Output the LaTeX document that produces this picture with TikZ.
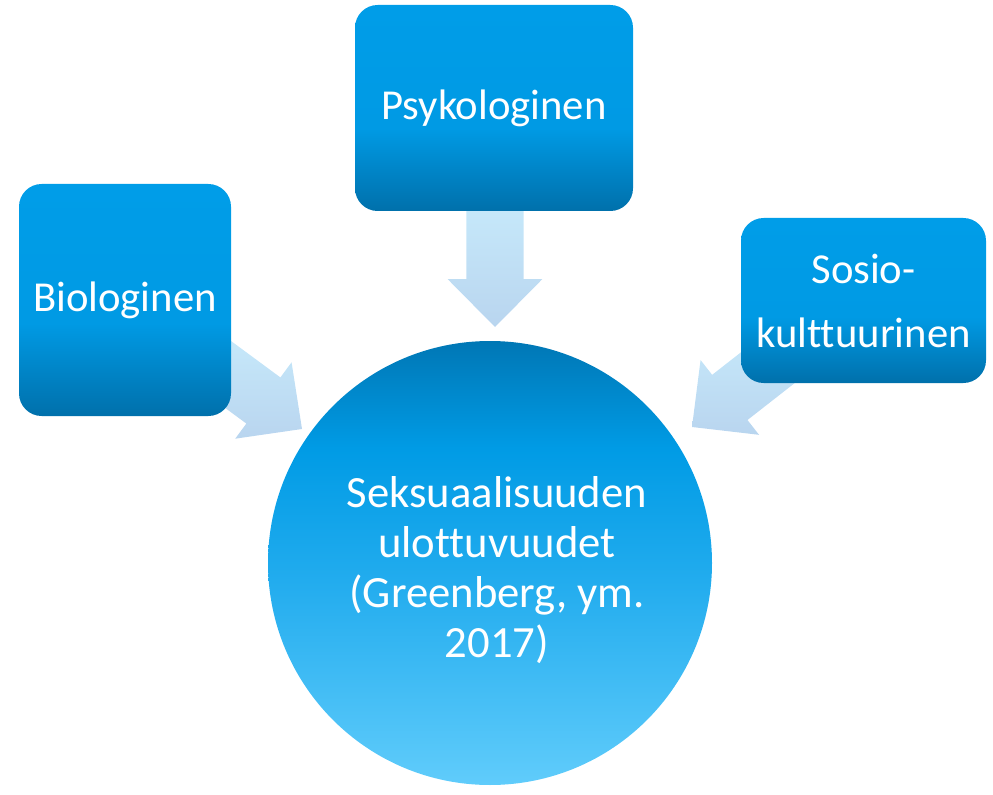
\documentclass[tikz,border=0pt]{standalone}
\usepackage{fontspec}
\setmainfont[Ligatures=NoCommon]{Carlito}
\usetikzlibrary{calc}
\definecolor{boxtop}{HTML}{009DE8}
\definecolor{boxmid}{HTML}{009AE4}
\definecolor{boxbot}{HTML}{0070AB}
\definecolor{circtop}{HTML}{0077B5}
\definecolor{circmid}{HTML}{009BE5}
\definecolor{circlow}{HTML}{22ACEE}
\definecolor{circbot}{HTML}{60CCFB}
\definecolor{arrtop}{HTML}{C7EAFB}
\definecolor{arrbot}{HTML}{B9D5EF}
\pgfdeclareverticalshading{boxshade}{100bp}{color(0bp)=(boxbot); color(25bp)=(boxbot); color(45bp)=(boxmid); color(75bp)=(boxtop); color(100bp)=(boxtop)}
\pgfdeclareverticalshading{circshade}{100bp}{color(0bp)=(circbot); color(25bp)=(circbot); color(48bp)=(circlow); color(63bp)=(circmid); color(75bp)=(circtop); color(100bp)=(circtop)}
\tikzset{
  boxnode/.style={rectangle, rounded corners=17pt, shading=boxshade, inner sep=0pt,
    text=white, align=center, font=\fontsize{32}{48}\selectfont},
  circnode/.style={circle, shading=circshade, inner sep=0pt, minimum size=333pt},
  circtext/.style={text=white, align=center, inner sep=0pt, font=\fontsize{33.5}{37.5}\selectfont},
  arrowshade/.style={top color=arrtop, bottom color=arrbot}
}
\newcommand\blockarr[2]{%
  \coordinate (H) at ($(#2)!36pt!(#1)$);
  \shade[arrowshade] ($(#1)!21.5pt!90:(#2)$) -- ($(H)!21.5pt!90:(#2)$) -- ($(H)!35.6pt!90:(#2)$)
    -- (#2) -- ($(H)!35.6pt!-90:(#2)$) -- ($(H)!21.5pt!-90:(#2)$) -- ($(#1)!21.5pt!-90:(#2)$) -- cycle;
}
\begin{document}
\begin{tikzpicture}[x=0.75pt,y=-0.75pt]
\useasboundingbox (0,0) rectangle (993,795);
% arrows (behind)
\coordinate (ta) at (495,195);
\coordinate (pa) at (495,327);
\coordinate (tb) at (199,353);
\coordinate (pb) at (302,429);
\coordinate (tc) at (793,348);
\coordinate (pc) at (692,427);
\blockarr{ta}{pa}
\blockarr{tb}{pb}
\blockarr{tc}{pc}
% nodes
\node[circnode] (circ) at (490,563) {};
\node[circtext] (circlabel) at (497,570) {Seksuaalisuuden\\ulottuvuudet\\(Greenberg, ym.\\2017)};
\node[boxnode, minimum width=208.5pt, minimum height=154.5pt] (psy) at (494,108) {Psykologinen};
\node[boxnode, minimum width=159pt, minimum height=174pt] (bio) at (125,300) {Biologinen};
\node[boxnode, minimum width=183.75pt, minimum height=123.75pt] (sos) at (863.5,300.5) {Sosio-\\kulttuurinen};
\end{tikzpicture}
\end{document}
